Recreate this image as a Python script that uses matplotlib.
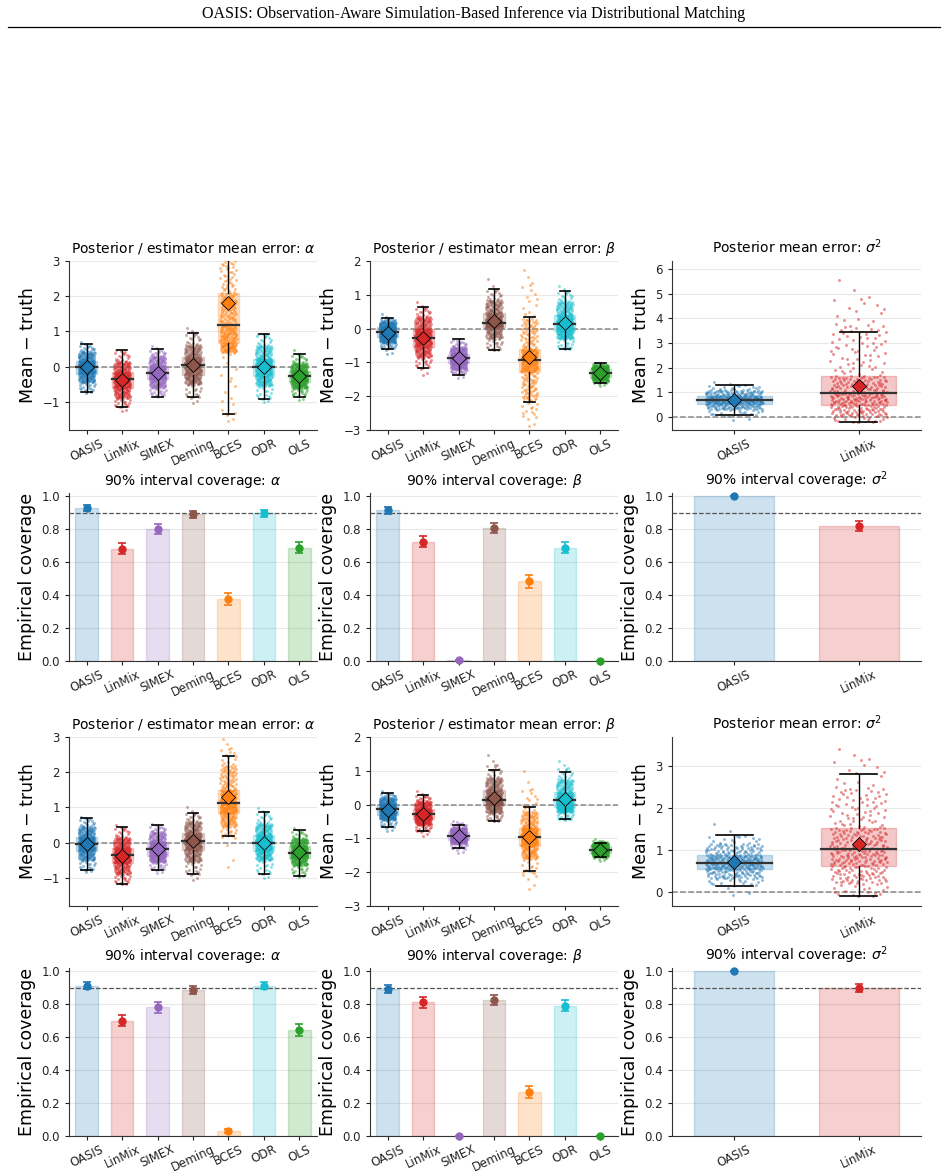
import numpy as np
import matplotlib
matplotlib.use("Agg")
import matplotlib.pyplot as plt
from matplotlib.lines import Line2D
from matplotlib.patches import Rectangle

methods = ["OASIS", "LinMix", "SIMEX", "Deming", "BCES", "ODR", "OLS"]
methods_s2 = ["OASIS", "LinMix"]
colors = ["tab:blue", "tab:red", "tab:purple", "tab:brown", "tab:orange", "tab:cyan", "tab:green"]

# point clouds: [min, p1, p5, q25, median, q75, p95, p99, max]
knot_probs = [0, 0.01, 0.05, 0.25, 0.5, 0.75, 0.95, 0.99, 1]

alpha_top_q = [
    [-0.76, -0.65, -0.45, -0.21, 0.00, 0.16, 0.42, 0.60, 0.75],
    [-1.30, -1.12, -0.90, -0.60, -0.36, -0.16, 0.15, 0.42, 0.50],
    [-0.86, -0.80, -0.60, -0.36, -0.17, 0.02, 0.30, 0.47, 0.68],
    [-1.07, -0.85, -0.50, -0.23, 0.04, 0.26, 0.62, 0.95, 1.20],
    [-1.62, -1.30, 0.40, 0.68, 1.18, 2.08, 3.60, 4.10, 4.60],
    [-1.02, -0.88, -0.55, -0.27, -0.01, 0.22, 0.60, 0.90, 0.96],
    [-0.99, -0.80, -0.62, -0.43, -0.26, -0.12, 0.10, 0.32, 0.55],
]
alpha_top_whis = [[-0.72, 0.63], [-1.16, 0.46], [-0.85, 0.49], [-0.87, 0.96],
                  [-1.35, 4.15], [-0.93, 0.94], [-0.85, 0.35]]
alpha_top_mean = [0.00, -0.38, -0.17, 0.04, 1.82, -0.01, -0.27]

beta_top_q = [
    [-0.81, -0.58, -0.42, -0.26, -0.10, 0.04, 0.20, 0.30, 0.50],
    [-1.44, -1.12, -0.85, -0.53, -0.27, -0.02, 0.35, 0.62, 0.88],
    [-1.49, -1.32, -1.20, -1.03, -0.88, -0.74, -0.55, -0.38, -0.31],
    [-0.65, -0.60, -0.30, 0.04, 0.18, 0.47, 0.85, 1.15, 1.67],
    [-2.95, -2.60, -2.10, -1.27, -0.94, -0.61, 0.30, 1.40, 1.93],
    [-0.61, -0.58, -0.30, -0.08, 0.14, 0.41, 0.80, 1.10, 1.36],
    [-1.72, -1.60, -1.53, -1.43, -1.32, -1.20, -1.10, -1.03, -1.00],
]
beta_top_whis = [[-0.61, 0.30], [-1.17, 0.65], [-1.37, -0.32], [-0.63, 1.18],
                 [-2.18, 0.34], [-0.60, 1.12], [-1.60, -1.03]]
beta_top_mean = [-0.14, -0.28, -0.88, 0.22, -0.83, 0.18, -1.32]

s2_top_q = [
    [-0.19, 0.10, 0.30, 0.53, 0.69, 0.85, 1.10, 1.30, 1.50],
    [-0.22, -0.18, 0.05, 0.50, 0.96, 1.66, 3.80, 4.90, 6.00],
]
s2_top_whis = [[0.08, 1.31], [-0.20, 3.44]]
s2_top_mean = [0.69, 1.24]

alpha_bot_q = [
    [-0.86, -0.75, -0.50, -0.23, -0.03, 0.16, 0.45, 0.68, 0.78],
    [-1.20, -1.12, -0.90, -0.58, -0.36, -0.14, 0.15, 0.42, 0.56],
    [-0.90, -0.75, -0.55, -0.38, -0.18, 0.02, 0.30, 0.46, 0.59],
    [-1.10, -0.88, -0.55, -0.22, 0.04, 0.26, 0.60, 0.85, 1.10],
    [-0.89, 0.15, 0.45, 0.83, 1.12, 1.50, 2.20, 2.70, 3.10],
    [-1.05, -0.85, -0.50, -0.24, 0.00, 0.23, 0.55, 0.85, 1.05],
    [-1.00, -0.88, -0.65, -0.43, -0.29, -0.10, 0.12, 0.32, 0.49],
]
alpha_bot_whis = [[-0.79, 0.71], [-1.18, 0.45], [-0.79, 0.49], [-0.90, 0.85],
                  [0.20, 2.45], [-0.89, 0.88], [-0.94, 0.35]]
alpha_bot_mean = [-0.05, -0.37, -0.18, 0.04, 1.31, 0.00, -0.28]

beta_bot_q = [
    [-0.83, -0.65, -0.45, -0.30, -0.12, 0.01, 0.20, 0.32, 0.44],
    [-0.95, -0.78, -0.60, -0.44, -0.29, -0.13, 0.10, 0.27, 0.51],
    [-1.45, -1.30, -1.15, -1.05, -0.93, -0.82, -0.68, -0.55, -0.42],
    [-0.49, -0.45, -0.25, -0.01, 0.14, 0.43, 0.80, 1.20, 1.64],
    [-2.58, -2.10, -1.60, -1.22, -0.95, -0.68, -0.20, 0.50, 1.33],
    [-0.45, -0.42, -0.22, -0.08, 0.14, 0.36, 0.75, 1.10, 1.43],
    [-1.69, -1.58, -1.50, -1.43, -1.33, -1.23, -1.15, -1.08, -1.00],
]
beta_bot_whis = [[-0.67, 0.34], [-0.79, 0.29], [-1.27, -0.59], [-0.49, 1.02],
                 [-1.97, -0.06], [-0.44, 0.96], [-1.55, -1.13]]
beta_bot_mean = [-0.16, -0.29, -0.93, 0.21, -0.95, 0.16, -1.33]

s2_bot_q = [
    [-0.14, 0.18, 0.32, 0.54, 0.70, 0.88, 1.15, 1.35, 1.80],
    [-0.10, -0.05, 0.20, 0.63, 1.03, 1.53, 2.50, 3.20, 3.52],
]
s2_bot_whis = [[0.15, 1.35], [-0.10, 2.82]]
s2_bot_mean = [0.71, 1.14]

# coverage
cov_alpha_top = [0.929, 0.683, 0.804, 0.891, 0.374, 0.897, 0.687]
cov_alpha_top_err = [0.018, 0.035, 0.030, 0.020, 0.036, 0.020, 0.034]
cov_beta_top = [0.915, 0.725, 0.004, 0.806, 0.483, 0.687, 0.0]
cov_beta_top_err = [0.020, 0.034, 0.005, 0.030, 0.037, 0.034, 0.0]
cov_s2_top = [1.0, 0.822]
cov_s2_top_err = [0.0, 0.030]
cov_alpha_bot = [0.913, 0.701, 0.782, 0.885, 0.030, 0.913, 0.644]
cov_alpha_bot_err = [0.020, 0.036, 0.033, 0.025, 0.013, 0.020, 0.038]
cov_beta_bot = [0.895, 0.812, 0.0, 0.828, 0.267, 0.792, 0.0]
cov_beta_bot_err = [0.024, 0.032, 0.0, 0.030, 0.036, 0.033, 0.0]
cov_s2_bot = [1.0, 0.90]
cov_s2_bot_err = [0.0, 0.025]

n_pts = 320

W, H = 948, 1174
fig = plt.figure(figsize=(W / 100, H / 100), dpi=100)
plt.rcParams["axes.edgecolor"] = "#333333"


def halton(n, base):
    out = np.zeros(n)
    for i in range(n):
        f, r, k = 1.0, 0.0, i + 1
        while k > 0:
            f /= base
            r += f * (k % base)
            k //= base
        out[i] = r
    return out


def make_ax(col, row):
    cols = [(69, 317), (370, 618), (672, 921)]
    rows = [(261, 430), (493, 661), (737, 906), (968, 1136)]
    l, r = cols[col]
    t, b = rows[row]
    ax = fig.add_axes([l / W, 1 - b / H, (r - l) / W, (b - t) / H])
    ax.spines["top"].set_visible(False)
    ax.spines["right"].set_visible(False)
    ax.grid(axis="y", color="#e8e8e8", lw=0.8)
    ax.set_axisbelow(True)
    ax.tick_params(labelsize=8.5, length=3, colors="#222222")
    ax.tick_params(axis="x", pad=2)
    return ax


# spread of the dots inside each column (position only)
u_pts = halton(n_pts, 2)
jit = (halton(n_pts, 3) - 0.5) * 0.46


def error_panel(ax, names, q, whis, means, ylim, yticks, title):
    for i, name in enumerate(names):
        c = colors[i]
        k = q[i]
        y = np.interp(u_pts, knot_probs, k)
        ax.scatter(i + jit, y, s=4.5, color=c, alpha=0.5, linewidths=0, zorder=3)
        ax.add_patch(Rectangle((i - 0.3, k[3]), 0.6, k[5] - k[3], facecolor=c, alpha=0.25,
                               edgecolor=c, lw=1, zorder=2))
        ax.plot([i - 0.3, i + 0.3], [k[4], k[4]], color="#333333", lw=1.6, zorder=4)
        lo, hi = whis[i]
        ax.plot([i, i], [lo, k[3]], color="black", lw=1, zorder=4)
        ax.plot([i, i], [k[5], hi], color="black", lw=1, zorder=4)
        ax.plot([i - 0.15, i + 0.15], [lo, lo], color="black", lw=1.2, zorder=4)
        ax.plot([i - 0.15, i + 0.15], [hi, hi], color="black", lw=1.2, zorder=4)
        ax.plot(i, means[i], marker="D", ms=7, color=c, mec="black", mew=0.6, zorder=5)
    ax.axhline(0, color="#888888", ls="--", lw=1.1, zorder=2.5)
    ax.set_xlim(-0.5, len(names) - 0.5)
    ax.set_ylim(*ylim)
    ax.set_yticks(yticks)
    ax.set_xticks(range(len(names)))
    ax.set_xticklabels(names, rotation=25)
    ax.set_title(title, fontsize=10)
    ax.set_ylabel("Mean \u2212 truth", fontsize=12.5)


def coverage_panel(ax, names, vals, errs, title):
    x = np.arange(len(names))
    for i in x:
        c = colors[i]
        ax.bar(i, vals[i], width=0.64, color=c, alpha=0.22, edgecolor=c, lw=1, zorder=2)
        ax.errorbar(i, vals[i], yerr=errs[i], fmt="o", color=c, ms=5, capsize=3,
                    elinewidth=1.2, capthick=1.2, zorder=4, clip_on=False)
    ax.axhline(0.9, color="#555555", ls="--", lw=0.9, zorder=3)
    ax.set_xlim(-0.5, len(names) - 0.5)
    ax.set_ylim(0, 1.02)
    ax.set_yticks([0, 0.2, 0.4, 0.6, 0.8, 1.0])
    ax.set_xticks(x)
    ax.set_xticklabels(names, rotation=25)
    ax.set_title(title, fontsize=10)
    ax.set_ylabel("Empirical coverage", fontsize=12.5)


for block, data in enumerate([
    (alpha_top_q, alpha_top_whis, alpha_top_mean, beta_top_q, beta_top_whis, beta_top_mean,
     s2_top_q, s2_top_whis, s2_top_mean, (-0.53, 6.33), range(0, 7),
     cov_alpha_top, cov_alpha_top_err, cov_beta_top, cov_beta_top_err, cov_s2_top, cov_s2_top_err),
    (alpha_bot_q, alpha_bot_whis, alpha_bot_mean, beta_bot_q, beta_bot_whis, beta_bot_mean,
     s2_bot_q, s2_bot_whis, s2_bot_mean, (-0.33, 3.69), range(0, 4),
     cov_alpha_bot, cov_alpha_bot_err, cov_beta_bot, cov_beta_bot_err, cov_s2_bot, cov_s2_bot_err),
]):
    (aq, aw, am, bq, bw, bm, sq, sw, sm, slim, sticks, ca, cae, cb, cbe, cs, cse) = data
    r = block * 2
    error_panel(make_ax(0, r), methods, aq, aw, am, (-1.8, 3), range(-1, 4),
                "Posterior / estimator mean error: $\\alpha$")
    error_panel(make_ax(1, r), methods, bq, bw, bm, (-3, 2), range(-3, 3),
                "Posterior / estimator mean error: $\\beta$")
    error_panel(make_ax(2, r), methods_s2, sq, sw, sm, slim, sticks,
                "Posterior mean error: $\\sigma^2$")
    coverage_panel(make_ax(0, r + 1), methods, ca, cae, "90% interval coverage: $\\alpha$")
    coverage_panel(make_ax(1, r + 1), methods, cb, cbe, "90% interval coverage: $\\beta$")
    coverage_panel(make_ax(2, r + 1), methods_s2, cs, cse, "90% interval coverage: $\\sigma^2$")

fig.text(0.5, 1 - 14 / H,
         "OASIS: Observation-Aware Simulation-Based Inference via Distributional Matching",
         ha="center", va="center", fontsize=11.5, family="Liberation Serif")
fig.add_artist(Line2D([8 / W, 940 / W], [1 - 27 / H, 1 - 27 / H], color="black", lw=0.9))

fig.savefig("out.png", dpi=100)
